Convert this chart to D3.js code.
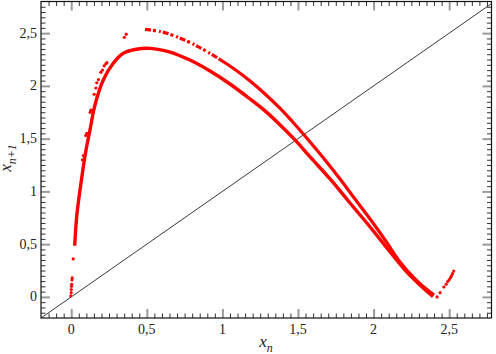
<!DOCTYPE html>
<html><head><meta charset="utf-8">
<script src="https://cdn.jsdelivr.net/npm/d3@7"></script>
<style>body{margin:0;background:#fff}svg{display:block}</style>
</head><body><svg id="c" width="496" height="354"></svg>
<script>
// ---- data ----
const innerBranch = [[0.023,0.485],[0.036,0.76],[0.058,1.013],[0.08,1.234],[0.098,1.393],[0.124,1.582],
  [0.157,1.819],[0.212,2.056],[0.278,2.214],[0.344,2.309],[0.422,2.345],[0.521,2.356],[0.653,2.321],
  [0.785,2.245],[0.918,2.141],[1.05,2.018],[1.183,1.876],[1.282,1.763],[1.382,1.63],[1.48,1.488],
  [1.58,1.327],[1.712,1.118],[1.844,0.89],[1.977,0.663],[2.109,0.426],[2.208,0.255],[2.307,0.113],[2.393,0.004]];
const outerTop = [[0.488,2.535],[0.587,2.516],[0.686,2.473],[0.786,2.411],[0.885,2.336],[0.984,2.25]];
const outerBranch = [[0.984,2.25],[1.083,2.155],[1.183,2.046],[1.282,1.923],[1.382,1.786],[1.48,1.634],
  [1.58,1.468],[1.679,1.297],[1.778,1.117],[1.877,0.928],[1.977,0.738],[2.076,0.539],[2.175,0.331],
  [2.274,0.17],[2.34,0.084],[2.4,0.018]];
const leftScatter = [[0.074,1.30],[0.08,1.34],[0.096,1.53],[0.103,1.55],[0.125,1.75],[0.13,1.77],[0.152,1.92],
  [0.163,1.98],[0.169,2.03],[0.18,2.06],[0.196,2.13],[0.207,2.15],[0.218,2.19],[0.229,2.21],[0.236,2.22],
  [0.351,2.46],[0.364,2.49]];
const originScatter = [[-0.003,0.01],[0.0,0.04],[0.0,0.07],[0.002,0.1],[0.003,0.12],[0.005,0.16],[0.006,0.18],[0.013,0.36]];
const tailPoints = [[2.42,0.0],[2.44,0.04],[2.465,0.094],[2.48,0.12],[2.49,0.145],[2.5,0.163],[2.51,0.185],
  [2.515,0.2],[2.522,0.22],[2.53,0.245]];
const xTickValues = [0,0.5,1,1.5,2,2.5];
const xTickLabels = ["0","0,5","1","1,5","2","2,5"];
const yTickValues = [0,0.5,1,1.5,2,2.5];
const yTickLabels = ["0","0,5","1","1,5","2","2,5"];
const xDomain = [-0.2, 2.78];
const yDomain = [-0.2, 2.8];

// ---- layout ----
const L = 41, R = 491.5, T = 1.5, B = 318;
const FONT = "Liberation Serif";
const svg = d3.select("#c");
const x = d3.scaleLinear().domain(xDomain).range([L, R]);
const y = d3.scaleLinear().domain(yDomain).range([B, T]);

svg.append("defs").append("clipPath").attr("id","clip")
  .append("rect").attr("x",L).attr("y",T).attr("width",R-L).attr("height",B-T);

// diagonal y = x
svg.append("line").attr("clip-path","url(#clip)")
  .attr("x1",x(xDomain[0])).attr("y1",y(xDomain[0]))
  .attr("x2",x(yDomain[1])).attr("y2",y(yDomain[1]))
  .attr("stroke","#222").attr("stroke-width",0.9);

// ticks (inward on all four sides)
const minorX = d3.range(-3, 56).filter(i => i % 10 !== 0).map(i => i / 20).filter(v => v > xDomain[0] && v < xDomain[1]);
const minorY = d3.range(-3, 57).filter(i => i % 10 !== 0).map(i => i / 20).filter(v => v > yDomain[0] && v < yDomain[1]);

function styleAxis(g, color, width){
  g.select(".domain").remove();
  g.selectAll(".tick text").remove();
  g.selectAll(".tick line").attr("stroke",color).attr("stroke-width",width);
}
const ms = -4.5, Ms = -9;
svg.append("g").attr("transform",`translate(0,${B})`).call(d3.axisBottom(x).tickValues(minorX).tickSize(ms)).call(g=>styleAxis(g,"#333",1));
svg.append("g").attr("transform",`translate(0,${T})`).call(d3.axisTop(x).tickValues(minorX).tickSize(ms)).call(g=>styleAxis(g,"#333",1));
svg.append("g").attr("transform",`translate(${L},0)`).call(d3.axisLeft(y).tickValues(minorY).tickSize(ms)).call(g=>styleAxis(g,"#333",1));
svg.append("g").attr("transform",`translate(${R},0)`).call(d3.axisRight(y).tickValues(minorY).tickSize(ms)).call(g=>styleAxis(g,"#333",1));
svg.append("g").attr("transform",`translate(0,${B})`).call(d3.axisBottom(x).tickValues(xTickValues).tickSize(Ms)).call(g=>styleAxis(g,"#9a9a9a",2));
svg.append("g").attr("transform",`translate(0,${T})`).call(d3.axisTop(x).tickValues(xTickValues).tickSize(Ms)).call(g=>styleAxis(g,"#9a9a9a",2));
svg.append("g").attr("transform",`translate(${L},0)`).call(d3.axisLeft(y).tickValues(yTickValues).tickSize(Ms)).call(g=>styleAxis(g,"#9a9a9a",2));
svg.append("g").attr("transform",`translate(${R},0)`).call(d3.axisRight(y).tickValues(yTickValues).tickSize(Ms)).call(g=>styleAxis(g,"#9a9a9a",2));

// tick labels
svg.append("g").selectAll("text").data(xTickValues).join("text")
  .attr("x",d=>x(d)).attr("y",B+15.5).attr("text-anchor","middle").attr("font-family",FONT)
  .attr("font-size",14).attr("fill","#222").text((d,i)=>xTickLabels[i]);
svg.append("g").selectAll("text").data(yTickValues).join("text")
  .attr("x",37).attr("y",d=>y(d)+4.5).attr("text-anchor","end").attr("font-family",FONT)
  .attr("font-size",14).attr("fill","#222").text((d,i)=>yTickLabels[i]);

// frame
svg.append("rect").attr("x",L).attr("y",T).attr("width",R-L).attr("height",B-T)
  .attr("fill","none").attr("stroke","#111").attr("stroke-width",1.2);

// data marks
const red = "#ff0000";
const line = d3.line().x(d=>x(d[0])).y(d=>y(d[1])).curve(d3.curveCatmullRom.alpha(0.5));
const plot = svg.append("g").attr("clip-path","url(#clip)");
plot.append("path").attr("d",line(innerBranch)).attr("fill","none").attr("stroke",red).attr("stroke-width",3.4);
plot.append("path").attr("d",line(outerBranch)).attr("fill","none").attr("stroke",red).attr("stroke-width",3.2);
plot.append("path").attr("d",line(outerTop)).attr("fill","none").attr("stroke",red).attr("stroke-width",3.2)
  .attr("stroke-dasharray","6,2,3,3,2,2");
const dots = leftScatter.concat(originScatter, tailPoints);
plot.selectAll("circle.p").data(dots).join("circle").attr("class","p")
  .attr("cx",d=>x(d[0])).attr("cy",d=>y(d[1])).attr("r",1.6).attr("fill",red);

// axis titles
const xt = svg.append("text").attr("x",266).attr("y",347).attr("font-family",FONT)
  .attr("font-size",17).attr("font-style","italic").attr("text-anchor","middle").attr("fill","#222");
xt.append("tspan").text("x");
xt.append("tspan").attr("dy",5).attr("font-size",12).text("n");

const yt = svg.append("text").attr("transform","translate(11,158) rotate(-90)").attr("font-family",FONT)
  .attr("font-size",17).attr("font-style","italic").attr("text-anchor","middle").attr("fill","#222");
yt.append("tspan").text("x");
yt.append("tspan").attr("dy",4.5).attr("font-size",12).text("n+1");
</script></body></html>
